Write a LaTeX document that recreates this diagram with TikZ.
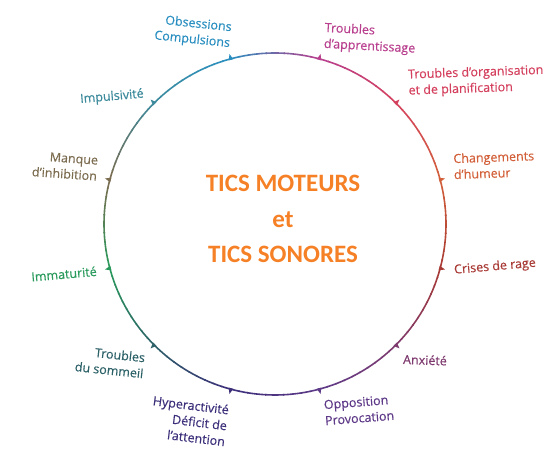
\documentclass[tikz,border=0pt]{standalone}
\usepackage{fontspec}
\setmainfont{Open Sans}
\newfontfamily\lblfont{Open Sans}[FakeBold=0.35]
\newfontfamily\ticsfont{Carlito}
\usepackage{xcolor}
\usepackage{tikz}
\usetikzlibrary{positioning}
\definecolor{ring0}{HTML}{2A8FC0}
\definecolor{ring1}{HTML}{B8408E}
\definecolor{ring2}{HTML}{D4415E}
\definecolor{ring3}{HTML}{D2603A}
\definecolor{ring4}{HTML}{A83A35}
\definecolor{ring5}{HTML}{7E3A6E}
\definecolor{ring6}{HTML}{5E3A88}
\definecolor{ring7}{HTML}{3D2F7A}
\definecolor{ring8}{HTML}{2C6168}
\definecolor{ring9}{HTML}{2A9A5C}
\definecolor{ring10}{HTML}{7C6C50}
\definecolor{ring11}{HTML}{3C8A9C}
\definecolor{ticsOrange}{HTML}{F58025}

\begin{document}
\begin{tikzpicture}[
    x=1pt, y=1pt,
    ringline/.style={line width=1.6pt, line cap=butt},
    lbl/.style={
        font=\fontsize{12.5}{16}\selectfont\lblfont,
        inner sep=0pt
    },
    lblL/.style={lbl, align=left},
    lblR/.style={lbl, align=right},
    ticsbox/.style={
        font=\fontsize{25}{35.5}\selectfont\ticsfont\bfseries,
        text=ticsOrange, align=center, inner sep=0pt
    },
]
\useasboundingbox (0,0) rectangle (553,454);

%% =================================================================
%% Ring (colour blended between the twelve marks)
%% =================================================================
\coordinate (ctr) at (275,230);

\foreach \i in {0,...,11} {
    \pgfmathtruncatemacro{\j}{mod(\i+1,12)}
    \foreach \k in {0,...,9} {
        \pgfmathtruncatemacro{\pct}{95-10*\k}
        \draw[ringline, draw=ring\i!\pct!ring\j]
            ([shift={(105-30*\i-3*\k:171)}]ctr)
            arc[start angle=105-30*\i-3*\k, delta angle=-3.3, radius=171];
    }
}

%% Marks on the ring
\foreach \a in {0,...,11} {
    \fill[ring\a] ([shift={(105-30*\a+0.8:170)}]ctr)
        -- ([shift={(105-30*\a:176)}]ctr)
        -- ([shift={(105-30*\a-0.8:170)}]ctr) -- cycle;
}

%% =================================================================
%% Centre text
%% =================================================================
\node[ticsbox] (tics) at (283,235)
    {TICS MOTEURS\\et\hspace*{26pt}\\TICS SONORES};

%% =================================================================
%% Labels round the ring (clockwise from the top)
%% =================================================================
\node[lblR, text=ring0, rotate=-6] (obs) at (193,422)
    {Obsessions\\Compulsions};

\node[lblL, text=ring1, rotate=-3] (appr) at (370,415)
    {Troubles\\d’apprentissage};

\node[lblL, text=ring2, rotate=2] (orga) at (476,373)
    {Troubles d’organisation\\et de planification};

\node[lblL, text=ring3, rotate=2] (humeur) at (494,289)
    {Changements\\d’humeur};

\node[lbl, text=ring4, rotate=5] (rage) at (495,187)
    {Crises de rage};

\node[lbl, text=ring5, rotate=-2] (anx) at (425,94)
    {Anxiété};

\node[lblL, text=ring6, rotate=4.5] (oppo) at (359,44)
    {Opposition\\Provocation};

\node[lblR, text=ring7, rotate=-7] (hyper) at (189,33)
    {Hyperactivité\\Déficit de\\l’attention};

\node[lblR, text=ring8, rotate=-6] (sommeil) at (110,92)
    {Troubles\\du sommeil};

\node[lbl, text=ring9, rotate=5] (immat) at (64,180)
    {Immaturité};

\node[lblR, text=ring10, rotate=-4] (inhib) at (65,288)
    {Manque\\d’inhibition};

\node[lbl, text=ring11, rotate=5] (impuls) at (112,357)
    {Impulsivité};

\end{tikzpicture}
\end{document}
